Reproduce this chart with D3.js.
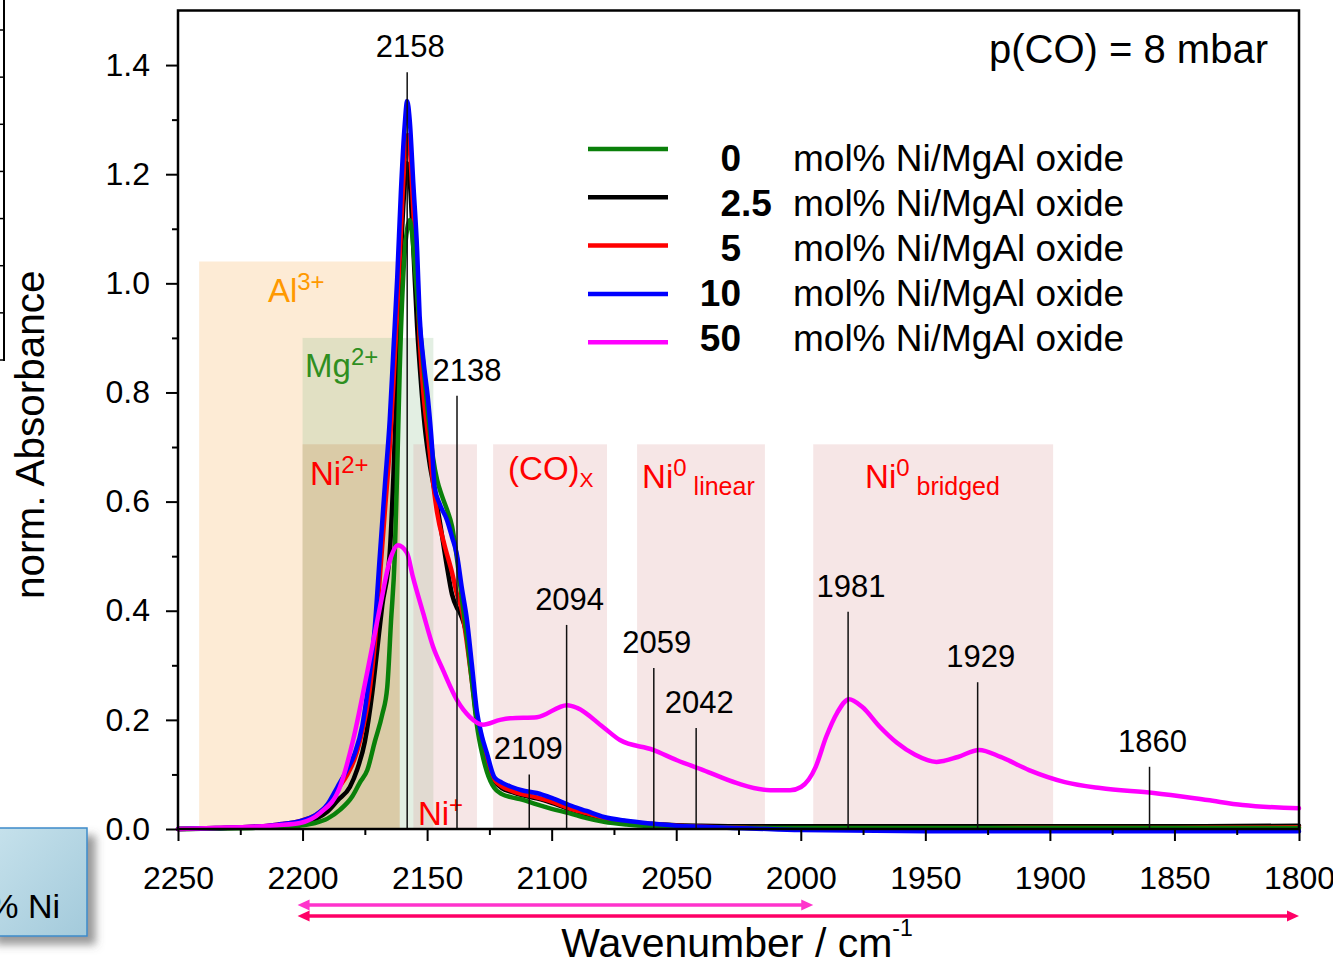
<!DOCTYPE html>
<html>
<head>
<meta charset="utf-8">
<script src="https://cdn.jsdelivr.net/npm/d3@7/dist/d3.min.js"></script>
<style>
  html, body { margin: 0; padding: 0; background: #ffffff; }
  svg { display: block; font-family: "Liberation Sans", Arial, Helvetica, sans-serif; }
</style>
</head>
<body>
<svg id="chart" width="1333" height="964"></svg>
<script>
// ---------------------------------------------------------------
// CO adsorption IR spectra, p(CO) = 8 mbar, Ni/MgAl oxides
// Each series: [wavenumber (cm-1), normalised absorbance]
// ---------------------------------------------------------------
const ni0 = [
  [2250,0.000],[2235,0.001],[2220,0.002],[2210,0.004],[2200,0.007],[2195,0.011],[2190,0.019],
  [2185,0.035],[2180,0.060],[2177,0.085],[2174,0.108],[2171,0.160],[2168,0.210],[2166,0.260],
  [2164.5,0.380],[2163,0.500],[2162,0.660],[2161,0.840],[2159.5,1.020],[2158,1.100],[2157,1.116],
  [2156,1.090],[2154.9,1.030],[2153.3,0.938],[2151.5,0.850],[2149.6,0.760],[2147.6,0.680],
  [2146,0.640],[2144,0.610],[2142,0.585],[2140,0.555],[2138,0.495],[2136,0.420],[2134,0.350],
  [2132,0.270],[2130,0.190],[2128,0.140],[2126,0.105],[2123,0.075],[2120,0.064],[2116,0.058],
  [2112,0.054],[2106,0.045],[2100,0.037],[2093,0.029],[2086,0.020],[2079,0.013],[2070,0.008],
  [2060,0.005],[2050,0.004],[2040,0.003],[2020,0.002],[2000,0.002],[1950,0.002],[1900,0.002],
  [1850,0.002],[1800,0.002]
];
const ni2p5 = [
  [2250,0.000],[2235,0.001],[2220,0.003],[2210,0.006],[2200,0.011],[2195,0.018],[2190,0.032],
  [2186,0.052],[2181,0.077],[2178,0.110],[2175,0.160],[2172,0.250],[2170,0.330],[2168,0.410],
  [2165,0.506],[2163.5,0.650],[2162,0.840],[2160.5,1.050],[2159,1.180],[2158,1.220],[2157,1.190],
  [2155.5,1.060],[2154,0.920],[2152.5,0.820],[2151,0.740],[2149,0.670],[2147,0.620],[2145,0.566],
  [2142,0.480],[2140,0.430],[2138,0.405],[2136.8,0.396],[2134,0.352],[2132,0.280],[2130,0.200],
  [2128,0.150],[2126,0.115],[2123,0.088],[2120,0.075],[2116,0.068],[2112,0.062],[2106,0.056],
  [2100,0.048],[2093,0.037],[2086,0.027],[2079,0.019],[2070,0.013],[2060,0.009],[2050,0.007],
  [2040,0.006],[2020,0.005],[2000,0.005],[1950,0.005],[1900,0.005],[1850,0.005],[1800,0.006]
];
const ni5 = [
  [2250,0.000],[2235,0.002],[2220,0.004],[2210,0.008],[2200,0.016],[2195,0.025],[2190,0.043],
  [2186,0.072],[2182,0.100],[2179,0.130],[2176,0.180],[2173.5,0.240],[2171,0.340],[2169,0.460],
  [2167,0.580],[2165,0.700],[2163.5,0.820],[2162,0.950],[2160.5,1.100],[2159,1.230],[2157.8,1.272],
  [2157,1.250],[2155.5,1.130],[2154,1.000],[2153,0.900],[2151.5,0.800],[2149.6,0.720],[2148,0.650],
  [2146,0.580],[2143,0.520],[2140,0.470],[2138,0.430],[2136,0.400],[2134,0.340],[2132,0.270],
  [2130,0.200],[2128,0.155],[2126,0.120],[2123,0.090],[2120,0.078],[2116,0.070],[2112,0.064],
  [2106,0.058],[2100,0.050],[2093,0.038],[2086,0.029],[2079,0.020],[2070,0.014],[2060,0.009],
  [2050,0.006],[2040,0.004],[2020,0.002],[2000,0.001],[1950,0.001],[1900,0.002],[1850,0.002],[1800,0.003]
];
const ni10 = [
  [2250,0.000],[2235,0.002],[2220,0.004],[2210,0.008],[2200,0.016],[2195,0.025],[2190,0.045],
  [2186,0.077],[2182,0.110],[2179,0.139],[2176,0.190],[2173.7,0.260],[2171,0.370],[2169,0.500],
  [2167,0.627],[2165,0.750],[2163.5,0.880],[2162,1.010],[2160.5,1.170],[2159,1.290],[2158,1.334],
  [2157,1.300],[2155.5,1.180],[2154,1.060],[2153,0.940],[2151.5,0.860],[2149.6,0.786],[2148,0.700],
  [2147,0.627],[2145,0.596],[2142,0.566],[2140,0.535],[2138,0.502],[2136,0.440],[2134,0.383],
  [2132,0.300],[2130,0.215],[2128,0.170],[2126,0.139],[2123,0.095],[2120,0.085],[2116,0.077],
  [2112,0.071],[2106,0.066],[2100,0.057],[2093,0.044],[2086,0.033],[2079,0.022],[2070,0.015],
  [2060,0.010],[2050,0.006],[2040,0.004],[2020,0.001],[2000,-0.002],[1950,-0.004],[1900,-0.004],
  [1850,-0.004],[1800,-0.004]
];
const ni50 = [
  [2250,0.000],[2235,0.002],[2220,0.004],[2210,0.007],[2201,0.011],[2193,0.029],[2185,0.077],
  [2179.7,0.163],[2174.1,0.286],[2168.9,0.407],[2164.9,0.493],[2161.7,0.520],[2158.1,0.506],
  [2155.7,0.462],[2151.6,0.396],[2147.6,0.334],[2143.6,0.291],[2138,0.236],[2132.8,0.205],
  [2127.6,0.191],[2120.7,0.200],[2116.7,0.203],[2105.9,0.205],[2093.8,0.227],[2089.8,0.222],
  [2079.4,0.187],[2072.6,0.163],[2059.3,0.145],[2049.7,0.126],[2039.2,0.108],[2025.6,0.084],
  [2012.3,0.071],[2004.3,0.071],[1999.9,0.077],[1994,0.114],[1989.8,0.169],[1985.4,0.213],
  [1980.6,0.238],[1975.4,0.224],[1968.2,0.187],[1961.4,0.158],[1954.1,0.136],[1945.5,0.123],
  [1936.9,0.132],[1928.4,0.145],[1919.8,0.132],[1908.4,0.108],[1894,0.086],[1879.8,0.075],
  [1858.3,0.066],[1836.8,0.053],[1822.7,0.044],[1800,0.038]
];

// legend entries (Ni loading, mol%)
const loadings = ["0", "2.5", "5", "10", "50"];
const legendSuffix = "mol% Ni/MgAl oxide";

// axis ticks
const xMajorTicks = [2250, 2200, 2150, 2100, 2050, 2000, 1950, 1900, 1850, 1800];
const xMinorTicks = [2225, 2175, 2125, 2075, 2025, 1975, 1925, 1875, 1825];
const yMajorTicks = [0.0, 0.2, 0.4, 0.6, 0.8, 1.0, 1.2, 1.4];
const yMinorTicks = [0.1, 0.3, 0.5, 0.7, 0.9, 1.1, 1.3];

// adsorption-site bands: [from, to] in cm-1 and band height in absorbance units
const bandNames = ["Al", "Mg", "Ni2", "Ni1", "COx", "Ni0lin", "Ni0br"];
const bandFrom  = [2241.5, 2200, 2200, 2155.5, 2123.5, 2065.7, 1995];
const bandTo    = [2161,   2147.5, 2161, 2130, 2077.8, 2014.4, 1898.7];
const bandTop   = [1.04,   0.90, 0.705, 0.705, 0.705, 0.705, 0.705];

// band labels (text pieces) and their anchor (wavenumber, absorbance of baseline)
const bandLabelParts = [
  [["Al", "n"], ["3+", "sup"]],
  [["Mg", "n"], ["2+", "sup"]],
  [["Ni", "n"], ["2+", "sup"]],
  [["Ni", "n"], ["+", "sup"]],
  [["(CO)", "n"], ["X", "sub"]],
  [["Ni", "n"], ["0", "sup"], [" linear", "small"]],
  [["Ni", "n"], ["0", "sup"], [" bridged", "small"]]
];
const bandLabelWn  = [2213.9, 2199, 2197, 2153.7, 2117.5, 2063.7, 1974.2];
const bandLabelAbs = [0.966, 0.828, 0.630, 0.007, 0.640, 0.625, 0.625];

// assigned band maxima (cm-1) and top of their marker lines
const peakWn  = [2158, 2138, 2109, 2094, 2059, 2042, 1981, 1929, 1860];
const peakTop = [1.387, 0.794, 0.100, 0.374, 0.295, 0.185, 0.398, 0.269, 0.114];

// spectral ranges marked under the axis
const rangeFrom = [2202, 2202];
const rangeTo   = [1995, 1800];

// ---------------------------------------------------------------
const svg = d3.select("#chart");
const FONT = '"Liberation Sans", Arial, Helvetica, sans-serif';

const x = d3.scaleLinear().domain([2250, 1800]).range([178, 1299]);
const y = d3.scaleLinear().domain([0, 1.5]).range([829, 10.5]);

const seriesList = [
  { key: "2.5", data: ni2p5, color: "#000000" },
  { key: "5",   data: ni5,   color: "#FF0000" },
  { key: "0",   data: ni0,   color: "#0A800A" },
  { key: "10",  data: ni10,  color: "#0000FF" },
  { key: "50",  data: ni50,  color: "#FF00FF" }
];
const legendColors = { "0": "#0A800A", "2.5": "#000000", "5": "#FF0000", "10": "#0000FF", "50": "#FF00FF" };

const bandStyle = {
  Al:     { fill: "#F9B565", op: 0.27 },
  Mg:     { fill: "#8FBF8F", op: 0.25 },
  Ni2:    { fill: "#C8905A", op: 0.26 },
  Ni1:    { fill: "#DC9C9C", op: 0.25 },
  COx:    { fill: "#DC9C9C", op: 0.25 },
  Ni0lin: { fill: "#DC9C9C", op: 0.25 },
  Ni0br:  { fill: "#DC9C9C", op: 0.25 }
};
const bandLabelColor = ["#FF9900", "#2F8F1F", "#FF0000", "#FF0000", "#FF0000", "#FF0000", "#FF0000"];

// horizontal nudges (px) of the peak position labels
const peakLabelDx = { 2138: 10, 2109: -1 };

// ---- fragment of the neighbouring panel at the left edge
const fragScale = d3.scaleLinear().domain([0, 7]).range([30, 360]);
const frag = svg.append("g").attr("transform", "translate(4,0)");
frag.append("line").attr("x1", 0).attr("x2", 0).attr("y1", 0).attr("y2", 361)
  .attr("stroke", "#000").attr("stroke-width", 2);
frag.selectAll("line.t").data(d3.range(0, 8)).join("line")
  .attr("class", "t")
  .attr("x1", -5).attr("x2", 0)
  .attr("y1", d => fragScale(d)).attr("y2", d => fragScale(d))
  .attr("stroke", "#000").attr("stroke-width", 1.5);

// ---- defs
const defs = svg.append("defs");
const grad = defs.append("linearGradient").attr("id", "boxGrad")
  .attr("x1", "0%").attr("y1", "0%").attr("x2", "100%").attr("y2", "100%");
grad.append("stop").attr("offset", "0%").attr("stop-color", "#C7E2EC");
grad.append("stop").attr("offset", "100%").attr("stop-color", "#A3CADB");
const shadow = defs.append("filter").attr("id", "boxShadow")
  .attr("x", "-20%").attr("y", "-20%").attr("width", "160%").attr("height", "160%");
shadow.append("feDropShadow").attr("dx", 8).attr("dy", 8).attr("stdDeviation", 4)
  .attr("flood-color", "#555").attr("flood-opacity", 0.6);

// ---- sample-name box (partly outside the canvas)
svg.append("rect")
  .attr("x", -12).attr("y", 828).attr("width", 99).attr("height", 108)
  .attr("fill", "url(#boxGrad)").attr("stroke", "#3D8BC9").attr("stroke-width", 1.5)
  .attr("filter", "url(#boxShadow)");
svg.append("text")
  .attr("x", 60).attr("y", 918).attr("text-anchor", "end")
  .attr("font-family", FONT).attr("font-size", 34).attr("fill", "#000")
  .text("% Ni");

// ---- bands
const bands = svg.append("g");
bandNames.forEach((name, i) => {
  const st = bandStyle[name];
  bands.append("rect")
    .attr("x", x(bandFrom[i]))
    .attr("width", x(bandTo[i]) - x(bandFrom[i]))
    .attr("y", y(bandTop[i]))
    .attr("height", y(0) - y(bandTop[i]))
    .attr("fill", st.fill).attr("fill-opacity", st.op);
});

// ---- band labels
const bandLabels = svg.append("g").attr("font-family", FONT);
bandLabelParts.forEach((parts, i) => {
  const t = bandLabels.append("text")
    .attr("x", x(bandLabelWn[i])).attr("y", y(bandLabelAbs[i]))
    .attr("fill", bandLabelColor[i]).attr("font-size", 33);
  let shift = 0;
  parts.forEach(([txt, kind]) => {
    const ts = t.append("tspan").text(txt);
    let target = 0, size = 33;
    if (kind === "sup") { target = -12; size = 24; }
    if (kind === "sub") { target = 7; size = 21; }
    if (kind === "small") { target = 7; size = 25; }
    ts.attr("font-size", size).attr("dy", target - shift);
    shift = target;
  });
});

// ---- spectra
const line = d3.line()
  .x(d => x(d[0])).y(d => y(d[1]))
  .curve(d3.curveMonotoneX);
const curves = svg.append("g");
seriesList.forEach(s => {
  curves.append("path")
    .datum(s.data)
    .attr("d", line)
    .attr("fill", "none")
    .attr("stroke", s.color)
    .attr("stroke-width", 4.5)
    .attr("stroke-linejoin", "round")
    .attr("stroke-linecap", "round");
});

// ---- band position markers
const peaks = svg.append("g");
peakWn.forEach((wn, i) => {
  peaks.append("line")
    .attr("x1", x(wn)).attr("x2", x(wn))
    .attr("y1", y(peakTop[i])).attr("y2", y(0))
    .attr("stroke", "#111").attr("stroke-width", 1.5);
  peaks.append("text")
    .attr("x", x(wn) + (peakLabelDx[wn] !== undefined ? peakLabelDx[wn] : 3))
    .attr("y", y(peakTop[i]) - 15)
    .attr("text-anchor", "middle")
    .attr("font-family", FONT).attr("font-size", 31).attr("fill", "#000")
    .text(String(wn));
});

// ---- axes
const axisG = svg.append("g").attr("font-family", FONT);

axisG.append("g").attr("transform", `translate(0,${y(0)})`)
  .call(d3.axisBottom(x).tickValues(xMajorTicks).tickSize(12).tickPadding(25).tickFormat(d3.format("d")));
axisG.append("g").attr("transform", `translate(0,${y(0)})`)
  .call(d3.axisBottom(x).tickValues(xMinorTicks).tickSize(6).tickFormat(""));

axisG.append("g").attr("transform", `translate(${x(2250)},0)`)
  .call(d3.axisLeft(y).tickValues(yMajorTicks).tickSize(12).tickPadding(16).tickFormat(d3.format(".1f")));
axisG.append("g").attr("transform", `translate(${x(2250)},0)`)
  .call(d3.axisLeft(y).tickValues(yMinorTicks).tickSize(6).tickFormat(""));

axisG.selectAll(".domain").remove();
axisG.selectAll(".tick line").attr("stroke", "#000").attr("stroke-width", 2);
axisG.selectAll(".tick text").attr("font-size", 32).attr("fill", "#000").attr("font-family", FONT);

// frame
svg.append("rect")
  .attr("x", x(2250)).attr("y", y(1.5))
  .attr("width", x(1800) - x(2250)).attr("height", y(0) - y(1.5))
  .attr("fill", "none").attr("stroke", "#000").attr("stroke-width", 2.5);

// ---- axis titles
svg.append("text")
  .attr("transform", `translate(44,${(y(0) + y(1.5)) / 2 + 15}) rotate(-90)`)
  .attr("text-anchor", "middle")
  .attr("font-family", FONT).attr("font-size", 40.5).attr("fill", "#000")
  .text("norm. Absorbance");

const xTitle = svg.append("text")
  .attr("x", 737).attr("y", 957)
  .attr("text-anchor", "middle")
  .attr("font-family", FONT).attr("font-size", 41).attr("fill", "#000");
xTitle.append("tspan").text("Wavenumber / cm");
xTitle.append("tspan").attr("font-size", 23).attr("dy", -21).text("-1");

// ---- pressure note
svg.append("text")
  .attr("x", 1268).attr("y", 63).attr("text-anchor", "end")
  .attr("font-family", FONT).attr("font-size", 40).attr("fill", "#000")
  .text("p(CO) = 8 mbar");

// ---- legend
const legend = svg.append("g").attr("font-family", FONT);
loadings.forEach((ld, i) => {
  const ly = 149 + i * 48.3;
  const ty = 171 + i * 45;
  legend.append("line")
    .attr("x1", 588).attr("x2", 668).attr("y1", ly).attr("y2", ly)
    .attr("stroke", legendColors[ld]).attr("stroke-width", 4.5);
  const [intPart, fracPart] = ld.split(".");
  legend.append("text")
    .attr("x", 741).attr("y", ty).attr("text-anchor", "end")
    .attr("font-size", 37).attr("font-weight", "bold").attr("fill", "#000")
    .text(intPart);
  if (fracPart !== undefined) {
    legend.append("text")
      .attr("x", 741).attr("y", ty).attr("text-anchor", "start")
      .attr("font-size", 37).attr("font-weight", "bold").attr("fill", "#000")
      .text("." + fracPart);
  }
  legend.append("text")
    .attr("x", 793).attr("y", ty)
    .attr("font-size", 37).attr("fill", "#000")
    .text(legendSuffix);
});

// ---- spectral-range arrows under the axis
const arrowColors = ["#FF33CC", "#FF0066"];
const arrowY = [905, 916];
const arrows = svg.append("g");
rangeFrom.forEach((f, i) => {
  const x1 = x(f), x2 = x(rangeTo[i]), ay = arrowY[i], c = arrowColors[i];
  const head = 12, half = 5.5;
  arrows.append("line")
    .attr("x1", x1 + head - 2).attr("x2", x2 - head + 2).attr("y1", ay).attr("y2", ay)
    .attr("stroke", c).attr("stroke-width", 3.5);
  arrows.append("path")
    .attr("d", `M${x1},${ay} L${x1 + head},${ay - half} L${x1 + head},${ay + half} Z`)
    .attr("fill", c);
  arrows.append("path")
    .attr("d", `M${x2},${ay} L${x2 - head},${ay - half} L${x2 - head},${ay + half} Z`)
    .attr("fill", c);
});
</script>
</body>
</html>
